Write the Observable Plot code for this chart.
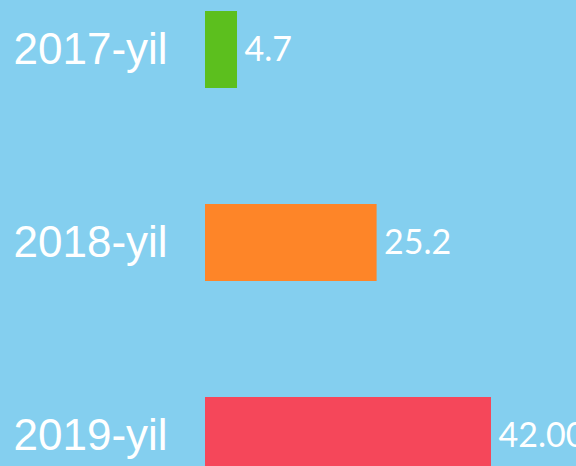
<!DOCTYPE html>
<html>
<head>
<meta charset="utf-8">
<script src="https://cdn.jsdelivr.net/npm/d3@7"></script>
<script src="https://cdn.jsdelivr.net/npm/@observablehq/plot@0.6"></script>
<style>
  html, body { margin: 0; padding: 0; background: #84cfef; overflow: hidden; }
</style>
</head>
<body>
<div id="chart"></div>
<script>
const years = ["2017-yil", "2018-yil", "2019-yil"];
const values = [4.7, 25.2, 42.0];
const valueLabels = ["4.7", "25.2", "42.00"];
const colors = ["#5cbf1e", "#fe8528", "#f5475a"];

const data = years.map((y, i) => ({year: y, value: values[i], label: valueLabels[i], color: colors[i]}));

const chart = Plot.plot({
  width: 576,
  height: 466,
  marginTop: 0, marginBottom: 0, marginLeft: 0, marginRight: 0,
  style: {background: "#84cfef", overflow: "hidden"},
  x: {domain: [0, 42], range: [205, 491], axis: null},
  y: {domain: years, range: [11, 474.2], paddingInner: 0.6, paddingOuter: 0, axis: null},
  marks: [
    Plot.barX(data, {x: "value", y: "year", fill: "color"}),
    Plot.text(data, {y: "year", text: "year", frameAnchor: "left", dx: 13, textAnchor: "start",
      fill: "white", fontSize: 44, fontFamily: "Liberation Sans, Arial, sans-serif"}),
    Plot.text(data, {x: "value", y: "year", text: "label", dx: 7, textAnchor: "start",
      fill: "white", fontSize: 34, fontFamily: "Lato, sans-serif"})
  ]
});
document.getElementById("chart").appendChild(chart);
</script>
</body>
</html>
